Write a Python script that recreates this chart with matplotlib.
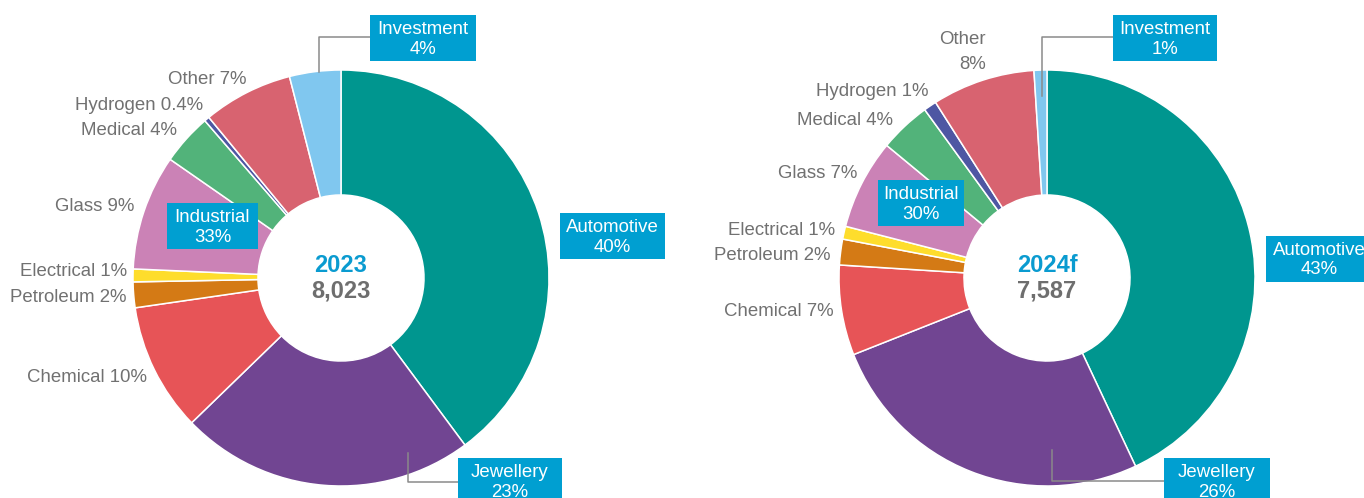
import matplotlib.pyplot as plt
from matplotlib.patches import Rectangle

plt.rcParams['font.family'] = ['Liberation Sans', 'DejaVu Sans']

# demand split by end use, % of total
segments = ['Automotive', 'Jewellery', 'Chemical', 'Petroleum', 'Electrical',
            'Glass', 'Medical', 'Hydrogen', 'Other', 'Investment']
industrial = ['Chemical', 'Petroleum', 'Electrical', 'Glass', 'Medical',
              'Hydrogen', 'Other']
share_2023 = [40, 23, 10, 2, 1, 9, 4, 0.4, 7, 4]
share_2024 = [43, 26, 7, 2, 1, 7, 4, 1, 8, 1]
years = ['2023', '2024f']
totals = [8023, 7587]

colors = ['#00968F', '#714592', '#E75457', '#D47A15', '#FEDD2C',
          '#CB82B6', '#52B37A', '#4E57A3', '#D86370', '#80C7EF']
BOX = '#009FD1'
GREY = '#717171'
BLUE = '#0A9BD0'
FS = 13.4

W, H = 1364, 498

# layout in image pixels (y down)
centers = [(341, 278), (1047, 278)]
R_OUT, R_IN = 208, 83

grey_pos = [
    {'Chemical': (147, 377), 'Petroleum': (127, 297), 'Electrical': (127, 272),
     'Glass': (134, 206), 'Medical': (177, 130), 'Hydrogen': (203, 105),
     'Other': (246, 79)},
    {'Chemical': (834, 312), 'Petroleum': (830, 255), 'Electrical': (835, 230),
     'Glass': (857, 173), 'Medical': (893, 120), 'Hydrogen': (928, 91),
     'Other': (986, 52)},
]
box_pos = [
    {'Automotive': (560, 213, 665, 259), 'Jewellery': (458, 458, 562, 504),
     'Investment': (370, 15, 476, 61), 'Industrial': (167, 203, 258, 249)},
    {'Automotive': (1266, 236, 1372, 282), 'Jewellery': (1164, 458, 1270, 504),
     'Investment': (1113, 15, 1217, 61), 'Industrial': (878, 180, 964, 226)},
]
leaders = [
    [[(370, 37), (319, 37), (319, 72)], [(408, 453), (408, 482), (458, 482)]],
    [[(1113, 37), (1042, 37), (1042, 96)], [(1052, 450), (1052, 481), (1164, 481)]],
]
two_line = [set(), {'Other'}]


def fmt(v):
    return '{:g}%'.format(v)


fig = plt.figure(figsize=(W / 100, H / 100), dpi=100)
ax = fig.add_axes([0, 0, 1, 1])

for i, shares in enumerate([share_2023, share_2024]):
    cx, cy = centers[i]
    ax.pie(shares, colors=colors, center=(cx, H - cy), radius=R_OUT,
           startangle=90, counterclock=False,
           wedgeprops=dict(width=R_OUT - R_IN, edgecolor='white', linewidth=1.1))

    # grey labels for the industrial sub-segments
    for name, v in zip(segments, shares):
        if name in grey_pos[i]:
            x, y = grey_pos[i][name]
            sep = '\n' if name in two_line[i] else ' '
            ax.text(x, H - y, name + sep + fmt(v), ha='right', va='center',
                    multialignment='right', linespacing=1.55,
                    fontsize=FS, color=GREY)

    # boxed labels
    vals = dict(zip(segments, shares))
    vals['Industrial'] = round(sum(vals[k] for k in industrial))
    for name, (x0, y0, x1, y1) in box_pos[i].items():
        ax.add_patch(Rectangle((x0, H - y1), x1 - x0, y1 - y0,
                               facecolor=BOX, edgecolor='none', zorder=3))
        xc = (x0 + x1) / 2
        yc = (y0 + y1) / 2
        ax.text(xc, H - (yc - 8.5), name, ha='center', va='center',
                fontsize=FS, color='white', zorder=4)
        ax.text(xc, H - (yc + 11), fmt(vals[name]), ha='center', va='center',
                fontsize=FS, color='white', zorder=4)

    for pts in leaders[i]:
        xs = [p[0] for p in pts]
        ys = [H - p[1] for p in pts]
        ax.plot(xs, ys, color='#8A8A8A', lw=1.1, zorder=2)

    ax.text(cx, H - 265, years[i], ha='center', va='center', fontsize=17,
            fontweight='bold', color=BLUE)
    ax.text(cx, H - 291, f'{totals[i]:,}', ha='center', va='center',
            fontsize=17, fontweight='bold', color='#6E6E6E')

ax.set_xlim(0, W)
ax.set_ylim(0, H)
ax.set_aspect('equal')
ax.axis('off')

fig.savefig('out.png', dpi=100)
